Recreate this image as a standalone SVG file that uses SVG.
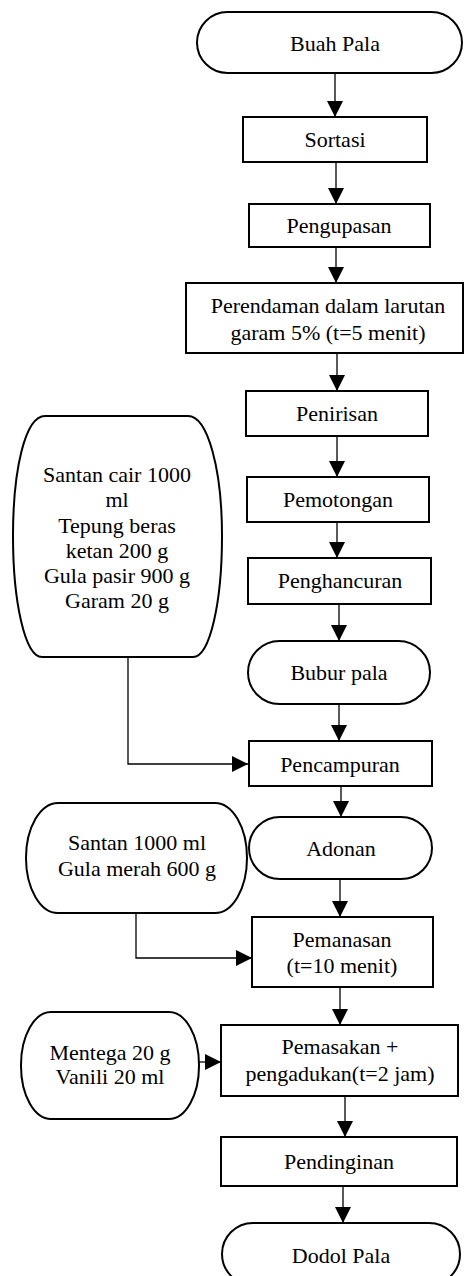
<svg xmlns="http://www.w3.org/2000/svg" width="465" height="1276" viewBox="0 0 465 1276">
<style>
.s{fill:#fff;stroke:#000;stroke-width:2}
.t{font-family:"Liberation Serif","Times New Roman",serif;font-size:22px;fill:#000;text-anchor:middle}
.c{fill:none;stroke:#000;stroke-width:1.3}
</style>
<defs>
<marker id="ah" markerUnits="userSpaceOnUse" markerWidth="16" markerHeight="16" viewBox="0 0 14 14" refX="14" refY="7" orient="auto">
<path d="M0,0 L14,7 L0,14 Z" fill="#000"/>
</marker>
</defs>
<rect width="465" height="1276" fill="#fff"/>
<g id="connectors">
<path class="c" d="M335,73 V117" marker-end="url(#ah)"/>
<path class="c" d="M336,162 V204" marker-end="url(#ah)"/>
<path class="c" d="M336,247 V283" marker-end="url(#ah)"/>
<path class="c" d="M337,353 V391" marker-end="url(#ah)"/>
<path class="c" d="M337,436 V477" marker-end="url(#ah)"/>
<path class="c" d="M337,522 V558" marker-end="url(#ah)"/>
<path class="c" d="M339,604 V641" marker-end="url(#ah)"/>
<path class="c" d="M339,704 V741" marker-end="url(#ah)"/>
<path class="c" d="M128,657 V764 H248" marker-end="url(#ah)"/>
<path class="c" d="M341,786 V817" marker-end="url(#ah)"/>
<path class="c" d="M340,879 V917" marker-end="url(#ah)"/>
<path class="c" d="M136,913 V958 H252" marker-end="url(#ah)"/>
<path class="c" d="M340,987 V1025" marker-end="url(#ah)"/>
<path class="c" d="M199,1062 H221" marker-end="url(#ah)"/>
<path class="c" d="M345,1096 V1137" marker-end="url(#ah)"/>
<path class="c" d="M343,1186 V1223" marker-end="url(#ah)"/>
</g>
<g id="buah-pala">
<rect class="s" x="197" y="12" width="265" height="61" rx="30.5" ry="30.5"/>
<text class="t" x="335" y="51">Buah Pala</text>
</g>
<g id="sortasi">
<rect class="s" x="243" y="117" width="184" height="45"/>
<text class="t" x="335" y="147">Sortasi</text>
</g>
<g id="pengupasan">
<rect class="s" x="249" y="204" width="181" height="43"/>
<text class="t" x="339" y="233">Pengupasan</text>
</g>
<g id="perendaman">
<rect class="s" x="186" y="283" width="277" height="70"/>
<text class="t" x="328" y="313">Perendaman dalam larutan</text>
<text class="t" x="328" y="340">garam 5% (t=5 menit)</text>
</g>
<g id="penirisan">
<rect class="s" x="246" y="391" width="182" height="45"/>
<text class="t" x="337" y="421">Penirisan</text>
</g>
<g id="pemotongan">
<rect class="s" x="247" y="477" width="182" height="45"/>
<text class="t" x="338" y="507">Pemotongan</text>
</g>
<g id="penghancuran">
<rect class="s" x="248" y="558" width="183" height="46"/>
<text class="t" x="340" y="588">Penghancuran</text>
</g>
<g id="bubur-pala">
<rect class="s" x="248" y="641" width="182" height="63" rx="31.5" ry="31.5"/>
<text class="t" x="339" y="680">Bubur pala</text>
</g>
<g id="bahan-1">
<path class="s" d="M45,416 H188 C208,416 222,470 222,536 C222,602 210,657 193,657 H42 C25,657 13,602 13,536 C13,470 25,416 45,416 Z"/>
<text class="t" x="117" y="482">Santan cair 1000</text>
<text class="t" x="117" y="507">ml</text>
<text class="t" x="117" y="533">Tepung beras</text>
<text class="t" x="117" y="558">ketan 200 g</text>
<text class="t" x="117" y="583">Gula pasir 900 g</text>
<text class="t" x="117" y="608">Garam 20 g</text>
</g>
<g id="pencampuran">
<rect class="s" x="249" y="741" width="183" height="45"/>
<text class="t" x="340" y="772">Pencampuran</text>
</g>
<g id="bahan-2">
<rect class="s" x="26" y="803" width="221" height="110" rx="32" ry="55"/>
<text class="t" x="137" y="850">Santan 1000 ml</text>
<text class="t" x="137" y="876">Gula merah 600 g</text>
</g>
<g id="adonan">
<rect class="s" x="249" y="817" width="183" height="62" rx="31" ry="31"/>
<text class="t" x="341" y="856">Adonan</text>
</g>
<g id="pemanasan">
<rect class="s" x="252" y="917" width="181" height="70"/>
<text class="t" x="342" y="947">Pemanasan</text>
<text class="t" x="342" y="973">(t=10 menit)</text>
</g>
<g id="bahan-3">
<rect class="s" x="21" y="1012" width="178" height="107" rx="30" ry="53"/>
<text class="t" x="110" y="1060">Mentega 20 g</text>
<text class="t" x="110" y="1084">Vanili 20 ml</text>
</g>
<g id="pemasakan">
<rect class="s" x="221" y="1025" width="237" height="71"/>
<text class="t" x="340" y="1054">Pemasakan +</text>
<text class="t" x="340" y="1081">pengadukan(t=2 jam)</text>
</g>
<g id="pendinginan">
<rect class="s" x="221" y="1137" width="236" height="49"/>
<text class="t" x="339" y="1169">Pendinginan</text>
</g>
<g id="dodol-pala">
<rect class="s" x="222" y="1223" width="238" height="62" rx="31" ry="31"/>
<text class="t" x="341" y="1263">Dodol Pala</text>
</g>
</svg>
